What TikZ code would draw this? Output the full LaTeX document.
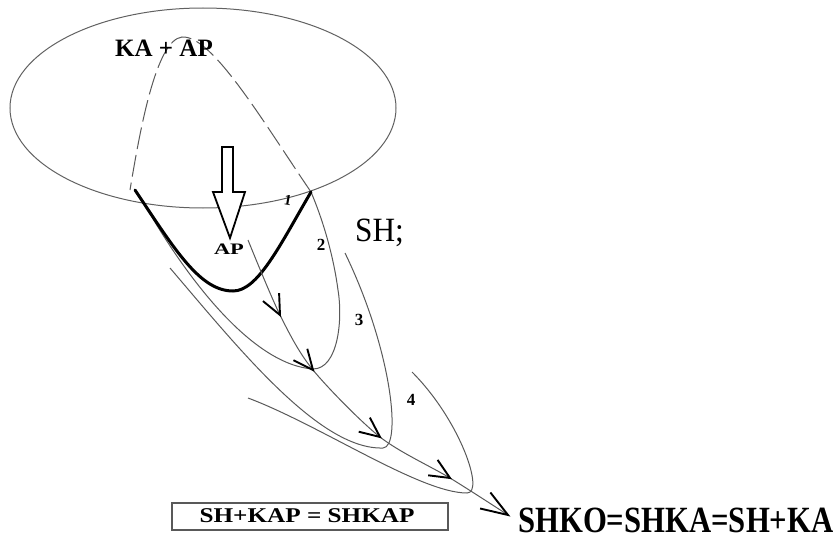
\documentclass[tikz,border=0pt]{standalone}
\usepackage{fontspec}
\setmainfont{Liberation Serif}
\begin{document}
\begin{tikzpicture}[x=1pt,y=-1pt,
  curveline/.style={draw=black!65, line width=1pt},
  dashline/.style={draw=black!65, line width=1pt, dash pattern=on 22pt off 6pt},
  thickline/.style={draw=black, line width=3pt, line cap=round},
  vhead/.style={draw=black, line width=1.9pt, line join=miter},
  lbl/.style={inner sep=0pt, text=black},
]
\useasboundingbox (0,0) rectangle (839,543);

% ellipse
\draw[draw=black!62, line width=1pt] (203,108) ellipse [x radius=193, y radius=100];

% dashed arc over the ellipse
\coordinate (L0) at (130,190);
\coordinate (R0) at (311,192);
\coordinate (pk) at (182,37);
\draw[dashline] (R0) .. controls (262,120) and (212,35) .. (pk)
  .. controls (156,40) and (140,130) .. (L0);

% curve 2
\coordinate (c2a) at (142,200);
\coordinate (c2b) at (313,369);
\coordinate (c2m) at (338,290);
\draw[curveline] (c2a) .. controls (190,285) and (255,365) .. (c2b)
  .. controls (338,369) and (343,320) .. (c2m)
  .. controls (334,260) and (325,225) .. (R0);

% curve 3
\coordinate (c3a) at (170,268);
\coordinate (c3b) at (383,448);
\coordinate (c3c) at (345,253);
\draw[curveline] (c3a) .. controls (240,350) and (320,450) .. (c3b)
  .. controls (402,447) and (392,350) .. (c3c);

% curve 4
\coordinate (c4a) at (248,398);
\coordinate (c4b) at (467,493);
\coordinate (c4c) at (412,372);
\draw[curveline] (c4a) .. controls (320,425) and (420,493) .. (c4b)
  .. controls (485,493) and (460,420) .. (c4c);

% thick curve 1
\coordinate (t0) at (135,190);
\coordinate (tb) at (233,291);
\draw[thickline] (t0) .. controls (175,250) and (200,291) .. (tb)
  .. controls (258,291) and (280,245) .. (R0);

% main axis
\coordinate (a1) at (248,240);
\coordinate (a2) at (280,315);
\coordinate (a3) at (313,370);
\coordinate (a4) at (380,437);
\coordinate (a5) at (450,478);
\coordinate (a6) at (508,515);
\draw[curveline] plot[smooth] coordinates {(a1) (a2) (a3) (a4) (a5) (a6)};

% open arrowheads along the axis
\draw[vhead] (263.0,301.1) -- (a2) -- (279.1,293.1);
\draw[vhead] (293.4,360.2) -- (a3) -- (307.3,348.8);
\draw[vhead] (358.7,431.7) -- (a4) -- (369.9,417.6);
\draw[vhead] (428.2,475.3) -- (a5) -- (437.6,459.9);
\draw[vhead] (480.1,508.5) -- (a6) -- (490.4,492.5);

% hollow down arrow
\draw[draw=black, line width=1.8pt, line join=miter, fill=white]
  (222,147) -- (233,147) -- (233,192) -- (245,192) -- (230,238) -- (213,192) -- (222,192) -- cycle;

% texts
\node[lbl, anchor=base, font=\fontsize{25}{25}\selectfont\bfseries] (kaap) at (164,57) {KA + AP};
\node[lbl, anchor=base, font=\fontsize{16}{16}\selectfont\bfseries, xscale=1.4] (ap) at (229,254) {AP};
\node[lbl, anchor=base west, font=\fontsize{34}{34}\selectfont, xscale=0.92] (sh) at (355,241) {SH;};
\node[lbl, font=\fontsize{15}{15}\selectfont\bfseries, rotate=-10] (n1) at (288,200) {1};
\node[lbl, font=\fontsize{17}{17}\selectfont\bfseries] (n2) at (321,245) {2};
\node[lbl, font=\fontsize{17}{17}\selectfont\bfseries] (n3) at (359,320) {3};
\node[lbl, font=\fontsize{17}{17}\selectfont\bfseries] (n4) at (411,400) {4};
\node[lbl, anchor=base west, font=\fontsize{37}{37}\selectfont\bfseries, xscale=0.83] (res) at (518,532) {SHKO=SHKA=SH+KA};

\draw[draw=black!65, line width=1.4pt] (172,503) rectangle (448,530);
\node[lbl, anchor=base, font=\fontsize{21}{21}\selectfont\bfseries, xscale=1.2] (box) at (307,522) {SH+KAP = SHKAP};
\end{tikzpicture}
\end{document}
